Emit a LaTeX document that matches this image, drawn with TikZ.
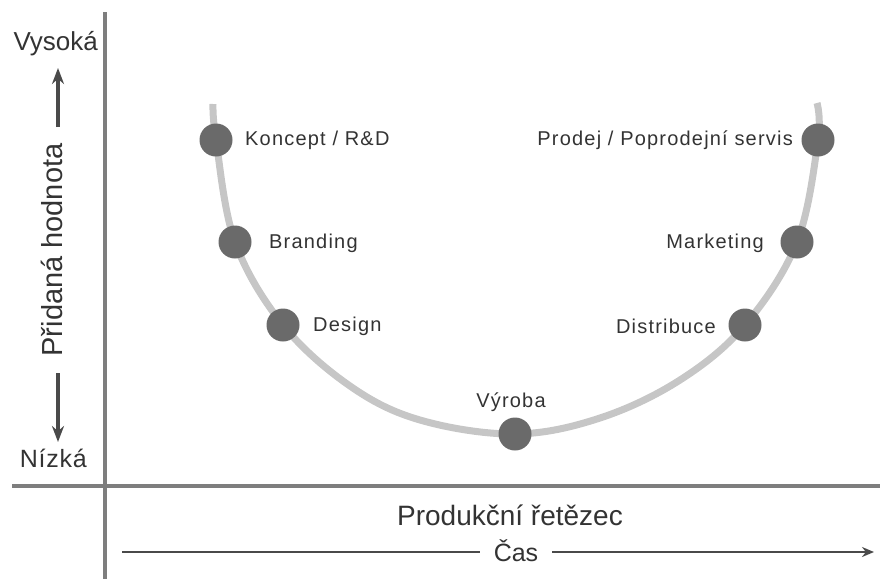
\documentclass[tikz,border=0pt]{standalone}
\usepackage{fontspec}
\setmainfont{Liberation Sans}
\newfontfamily\lblfont[LetterSpace=6]{Liberation Sans}
\newfontfamily\axfont[LetterSpace=3]{Liberation Sans}
\usetikzlibrary{arrows.meta}
\definecolor{axisgray}{HTML}{7E7E7E}
\definecolor{curvegray}{HTML}{C6C6C6}
\definecolor{dotgray}{HTML}{6A6A6A}
\definecolor{txtgray}{HTML}{333333}
\definecolor{arrgray}{HTML}{4A4A4A}
\tikzset{
  axisline/.style={draw=axisgray, line width=3.5pt},
  arrowline/.style={draw=arrgray, line width=3.5pt, -{Stealth[length=16pt,width=12pt]}},
  timeline/.style={draw=arrgray, line width=2.5pt},
  dot/.style={circle, fill=dotgray, minimum size=33pt, inner sep=0pt},
  lbl/.style={text=txtgray, font=\lblfont\fontsize{20}{22}\selectfont, inner sep=0pt},
  axlbl/.style={text=txtgray, font=\fontsize{26}{28}\selectfont, inner sep=0pt},
}
\begin{document}
\begin{tikzpicture}[x=1pt,y=-1pt]
\useasboundingbox (0,0) rectangle (880,579);
% axes
\coordinate (vtop) at (105,12);
\coordinate (vbot) at (105,579);
\coordinate (hleft) at (12,486);
\coordinate (hright) at (880,486);
\draw[axisline] (vtop) -- (vbot);
\draw[axisline] (hleft) -- (hright);
% curve
\draw[curvegray, line width=7pt] plot[smooth, tension=0.6] coordinates
 {(213,104) (216,140) (235,242) (283,325) (350,386) (420,420) (515,434) (600,418) (680,380) (745,325) (797,242) (818,140) (817,103)};
% dots
\node[dot] (k) at (216,140) {};
\node[dot] (b) at (235,242) {};
\node[dot] (d) at (283,325) {};
\node[dot] (v) at (515,434) {};
\node[dot] (di) at (745,325) {};
\node[dot] (m) at (797,242) {};
\node[dot] (p) at (818,140) {};
% labels
\node[lbl, anchor=west] (lk) at (245,140) {Koncept / R\&D};
\node[lbl, anchor=west] (lb) at (269,243) {Branding};
\node[lbl, anchor=west] (ld) at (313,326) {Design};
\node[lbl, anchor=base] (lv) at (511,407) {Výroba};
\node[lbl, anchor=east] (ldi) at (716,326) {Distribuce};
\node[lbl, anchor=east] (lm) at (764,243) {Marketing};
\node[lbl, anchor=east] (lp) at (793,140) {Prodej / Poprodejní servis};
% axis labels
\node[axlbl, anchor=base east] (vys) at (98,50) {Vysoká};
\node[axlbl, anchor=base east, font=\axfont\fontsize{25}{28}\selectfont] (niz) at (87,467) {Nízká};
\node[axlbl, rotate=90, anchor=base, font=\fontsize{29}{30}\selectfont] (ph) at (62,250) {Přidaná hodnota};
\coordinate (upfrom) at (58,127);
\coordinate (upto) at (58,68);
\coordinate (dnfrom) at (58,373);
\coordinate (dnto) at (58,442);
\draw[arrowline] (upfrom) -- (upto);
\draw[arrowline] (dnfrom) -- (dnto);
\node[axlbl, anchor=base, font=\fontsize{28}{30}\selectfont] (pr) at (510,525) {Produkční řetězec};
\node[axlbl, anchor=base, font=\fontsize{25}{28}\selectfont, inner xsep=14pt] (cas) at (516,561) {Čas};
\coordinate (cl) at (122,552);
\coordinate (cr) at (874,552);
\draw[timeline] (cl) -- (cl -| cas.west);
\draw[timeline, -{Stealth[length=12pt,width=10pt]}] (cr -| cas.east) -- (cr);
\end{tikzpicture}
\end{document}
